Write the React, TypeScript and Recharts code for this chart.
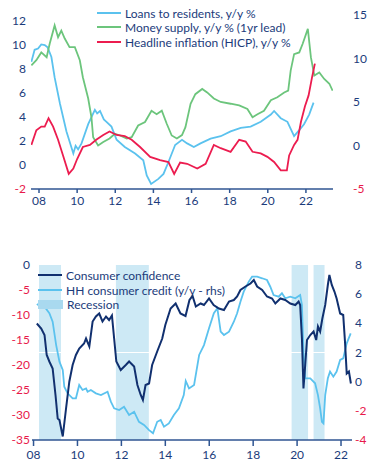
import React from 'react'
import { ComposedChart, Line, XAxis, YAxis, ReferenceArea, ReferenceLine } from 'recharts'

const NAVY = '#1b3b7b'
const RED = '#e8194b'
const AXIS = '#2f5592'
const FONT = 'Lato, "Open Sans", sans-serif'

// top panel: [year, y/y %]
const loans: [number, number][] = [
  [2007.6, 8.6], [2007.77, 9.6], [2007.95, 9.7], [2008.12, 10.05], [2008.3, 10.0], [2008.45, 9.8],
  [2008.65, 9.0], [2008.82, 7.3], [2009.1, 5.1], [2009.44, 2.8], [2009.8, 0.96], [2009.92, 1.6],
  [2010.05, 1.3], [2010.23, 1.8], [2010.58, 3.4], [2010.93, 4.6], [2011.05, 4.3], [2011.2, 4.5],
  [2011.4, 3.8], [2011.54, 3.6], [2011.8, 3.2], [2012.07, 2.1], [2012.5, 1.5], [2013.04, 0.96],
  [2013.47, 0.4], [2013.65, -0.87], [2013.88, -1.58], [2014.26, -1.16], [2014.53, -0.74],
  [2014.79, 0.25], [2015.14, 1.67], [2015.5, 2.1], [2015.77, 1.8], [2016.12, 1.5], [2016.47, 1.8],
  [2017.0, 2.2], [2017.53, 2.4], [2018.05, 2.8], [2018.58, 3.1], [2019.1, 3.2], [2019.63, 3.6],
  [2020.16, 4.2], [2020.33, 4.5], [2020.68, 3.9], [2021.03, 3.6], [2021.38, 2.4], [2021.65, 2.9],
  [2021.9, 3.4], [2022.17, 4.2], [2022.4, 5.2],
]

const money: [number, number][] = [
  [2007.6, 9.2], [2007.86, 9.8], [2008.12, 10.7], [2008.4, 10.15], [2008.56, 11.7], [2008.82, 13.8],
  [2009.0, 12.45], [2009.17, 13.2], [2009.35, 12.3], [2009.6, 11.3], [2009.88, 11.3], [2010.14, 9.8],
  [2010.3, 7.85], [2010.58, 5.4], [2010.75, 3.25], [2010.84, 0.95], [2011.1, 0.0], [2011.37, 0.4],
  [2011.7, 0.8], [2011.98, 1.35], [2012.25, 1.15], [2012.6, 0.8], [2012.86, 0.95], [2013.2, 2.3],
  [2013.56, 2.7], [2013.9, 4.0], [2014.17, 3.6], [2014.44, 4.0], [2014.7, 2.5], [2014.96, 1.15],
  [2015.23, 0.8], [2015.5, 1.2], [2015.68, 2.1], [2015.95, 4.8], [2016.2, 5.9], [2016.56, 6.5],
  [2016.82, 6.1], [2017.17, 5.4], [2017.53, 5.0], [2018.05, 4.8], [2018.5, 4.6], [2018.93, 4.2],
  [2019.2, 3.25], [2019.46, 3.6], [2019.8, 4.0], [2020.16, 5.2], [2020.5, 5.55], [2020.86, 6.1],
  [2021.07, 6.3], [2021.2, 8.6], [2021.38, 10.5], [2021.65, 10.7], [2021.83, 11.7], [2022.1, 13.4],
  [2022.26, 10.15], [2022.44, 8.05], [2022.7, 8.4], [2022.96, 7.65], [2023.23, 7.1], [2023.4, 6.3],
]

const hicp: [number, number][] = [
  [2007.6, 1.67], [2007.86, 2.9], [2008.12, 3.2], [2008.3, 3.2], [2008.5, 3.9], [2008.74, 3.2],
  [2009.0, 2.1], [2009.26, 0.8], [2009.56, -0.74], [2009.8, -0.3], [2010.0, 0.5], [2010.3, 1.5],
  [2010.67, 1.67], [2011.0, 2.1], [2011.37, 2.5], [2011.7, 2.8], [2012.07, 2.5], [2012.5, 2.4],
  [2012.86, 2.1], [2013.3, 1.5], [2013.83, 0.68], [2014.35, 0.4], [2014.79, 0.25], [2015.09, -0.74],
  [2015.4, 0.2], [2015.77, 0.1], [2016.3, -0.3], [2016.74, 0.1], [2017.17, 1.67], [2017.53, 1.4],
  [2018.05, 1.1], [2018.5, 2.1], [2018.84, 1.95], [2019.2, 1.1], [2019.63, 0.96], [2019.98, 0.68],
  [2020.33, 0.25], [2020.68, -0.45], [2021.0, -0.45], [2021.12, 0.8], [2021.38, 1.67], [2021.56, 2.1],
  [2021.74, 3.6], [2021.95, 4.9], [2022.14, 5.8], [2022.32, 7.3], [2022.47, 8.45],
]

// bottom panel
const confidence: [number, number][] = [
  [2008.15, -11.7], [2008.35, -12.7], [2008.5, -14], [2008.6, -18], [2008.72, -19.3], [2008.87, -20.7],
  [2009.0, -26], [2009.1, -30.7], [2009.18, -31], [2009.33, -34.3], [2009.48, -28.7], [2009.63, -23.3],
  [2009.78, -20], [2009.93, -18], [2010.08, -16.7], [2010.3, -15.7], [2010.39, -14.7], [2010.54, -16.3],
  [2010.69, -11.3], [2010.84, -10.3], [2010.99, -9.7], [2011.14, -11.3], [2011.3, -10.3], [2011.44, -11],
  [2011.57, -10.1], [2011.67, -14.7], [2011.77, -19.3], [2011.97, -21], [2012.2, -20], [2012.35, -19.3],
  [2012.58, -20.3], [2012.73, -24], [2012.88, -26], [2012.98, -27], [2013.1, -24], [2013.26, -23.7],
  [2013.4, -20], [2013.63, -17.3], [2013.86, -14.7], [2014.0, -12], [2014.24, -8.7], [2014.47, -7.7],
  [2014.69, -9.7], [2014.92, -10.2], [2015.1, -7], [2015.24, -6.2], [2015.39, -8.3], [2015.61, -7.7],
  [2015.76, -8], [2015.99, -6.7], [2016.2, -8], [2016.44, -8.7], [2016.67, -9], [2016.9, -7.3],
  [2017.12, -7], [2017.27, -6.3], [2017.42, -5], [2017.65, -4.3], [2017.88, -3.7], [2018.03, -3],
  [2018.18, -4.3], [2018.41, -5], [2018.63, -6.3], [2018.86, -6.7], [2019.01, -7.7], [2019.24, -6.7],
  [2019.46, -7], [2019.69, -7.7], [2019.92, -8], [2020.07, -7.3], [2020.14, -8], [2020.22, -14.7],
  [2020.29, -24.7], [2020.37, -20], [2020.45, -15], [2020.6, -14], [2020.75, -13.3], [2020.87, -15],
  [2020.95, -12.3], [2021.05, -13.3], [2021.15, -10.7], [2021.28, -8], [2021.4, -4], [2021.47, -2],
  [2021.58, -4], [2021.7, -5.3], [2021.8, -6.7], [2021.96, -9.7], [2022.1, -10], [2022.18, -15.3],
  [2022.26, -21.7], [2022.36, -21.3], [2022.45, -23.7],
]

const credit: [number, number][] = [
  [2008.15, 5.26], [2008.27, 5.37], [2008.5, 5.14], [2008.72, 4.69], [2008.87, 4.11], [2009.03, 2.51],
  [2009.18, 1.37], [2009.33, 0.8], [2009.4, -0.35], [2009.55, -0.8], [2009.78, -1.14], [2009.93, -1.14],
  [2010.08, -0.23], [2010.23, -0.57], [2010.39, -0.46], [2010.46, -0.69], [2010.61, -0.57], [2010.84, -0.8],
  [2011.07, -0.92], [2011.37, -0.69], [2011.52, -1.37], [2011.67, -1.83], [2011.9, -1.95], [2012.12, -1.72],
  [2012.35, -2.29], [2012.58, -2.06], [2012.8, -2.75], [2013.03, -2.97], [2013.26, -3.32], [2013.44, -3.54],
  [2013.63, -2.75], [2013.79, -2.63], [2013.94, -3.09], [2014.16, -2.86], [2014.39, -2.29], [2014.62, -1.83],
  [2014.84, -0.92], [2014.93, 0.05], [2015.08, -0.46], [2015.31, -0.23], [2015.54, 1.83], [2015.76, 2.51],
  [2015.99, 3.66], [2016.21, 4.69], [2016.37, 5.03], [2016.52, 3.43], [2016.67, 3.2], [2016.9, 3.43],
  [2017.12, 4.11], [2017.27, 4.69], [2017.42, 5.48], [2017.57, 6.17], [2017.8, 6.86], [2017.95, 7.2],
  [2018.18, 7.2], [2018.41, 7.09], [2018.63, 6.97], [2018.78, 6.51], [2018.93, 5.94], [2019.16, 5.83],
  [2019.31, 6.06], [2019.46, 5.72], [2019.69, 5.83], [2019.92, 5.72], [2020.14, 5.94], [2020.22, 5.26],
  [2020.29, 2.05], [2020.37, 0.23], [2020.6, 0.23], [2020.82, -0.11], [2020.95, -0.92], [2021.05, -1.83],
  [2021.13, -2.75], [2021.2, -2.86], [2021.28, -0.92], [2021.4, 0.23], [2021.5, 0.69], [2021.65, 0.34],
  [2021.8, 0.69], [2021.96, 1.49], [2022.1, 1.6], [2022.26, 2.63], [2022.44, 3.31],
]

const recessionStart = [2008.25, 2011.75, 2019.75, 2020.75]
const recessionEnd = [2009.25, 2013.25, 2020.5, 2021.25]

const yearTicks = [2008, 2010, 2012, 2014, 2016, 2018, 2020, 2022]
const topLeftTicks = [-2, 0, 2, 4, 6, 8, 10, 12]
const topRightTicks = [-5, 0, 5, 10, 15]
const botLeftTicks = [-35, -30, -25, -20, -15, -10, -5, 0]
const botRightTicks = [-4, -2, 0, 2, 4, 6, 8]

function mergeSeries(series: Record<string, [number, number][]>) {
  const rows = new Map<number, any>()
  for (const [key, pts] of Object.entries(series)) {
    for (const [x, y] of pts) {
      const row = rows.get(x) ?? { x }
      row[key] = y
      rows.set(x, row)
    }
  }
  return [...rows.values()].sort((a, b) => a.x - b.x)
}

const topData = mergeSeries({ loans, money, hicp })
const bottomData = mergeSeries({ confidence, credit })

const yearLabel = (v: number) => String(v % 100).padStart(2, '0')

// negatives are drawn in red on every value axis
const ValueTick = ({ x, y, payload, textAnchor }: any) => (
  <text x={x} y={y} dy={4} textAnchor={textAnchor} fontSize={12} fontFamily={FONT}
    fill={payload.value < 0 ? RED : NAVY}>
    {payload.value}
  </text>
)

const LegendRow = ({ top, left, color, label }: any) => (
  <div style={{ position: 'absolute', top, left, display: 'flex', alignItems: 'center', height: 14 }}>
    <div style={{ width: 24, height: 2, background: color, marginRight: 4 }} />
    <span style={{ fontSize: 12, color: NAVY, fontFamily: FONT, whiteSpace: 'nowrap' }}>{label}</span>
  </div>
)

export default function App() {
  return (
    <div style={{ position: 'absolute', top: 0, left: 0, width: 380, height: 472, background: '#fff' }}>
      <div style={{ position: 'absolute', top: 0, left: 0 }}>
        <ComposedChart width={380} height={215} data={topData}
          margin={{ top: 15, right: 7, bottom: 6, left: 5 }}>
          <XAxis dataKey="x" type="number" domain={[2007.58, 2023.42]} ticks={yearTicks}
            tickFormatter={yearLabel} allowDataOverflow height={20}
            axisLine={{ stroke: AXIS, strokeWidth: 1.5 }} tickLine={{ stroke: AXIS, strokeWidth: 1.5 }}
            tickSize={4} tickMargin={3}
            tick={{ fontSize: 12, fill: NAVY, fontFamily: FONT }} />
          <YAxis yAxisId="left" domain={[-2, 12.5]} ticks={topLeftTicks} width={26}
            axisLine={false} tickLine={false} tickSize={0} tickMargin={5} tick={<ValueTick />} />
          <YAxis yAxisId="right" orientation="right" domain={[-5, 15]} ticks={topRightTicks} width={40}
            axisLine={false} tickLine={false} tickSize={0} tickMargin={20} tick={<ValueTick />} />
          <Line yAxisId="left" dataKey="loans" stroke="#5bc2ee" strokeWidth={1.8} dot={false}
            connectNulls isAnimationActive={false} />
          <Line yAxisId="right" dataKey="money" stroke="#6cc57c" strokeWidth={1.8} dot={false}
            connectNulls isAnimationActive={false} />
          <Line yAxisId="left" dataKey="hicp" stroke="#ec1c4f" strokeWidth={1.8} dot={false}
            connectNulls isAnimationActive={false} />
        </ComposedChart>
        <LegendRow top={6} left={97} color="#5bc2ee" label="Loans to residents, y/y %" />
        <LegendRow top={20} left={97} color="#6cc57c" label="Money supply, y/y % (1yr lead)" />
        <LegendRow top={35} left={97} color="#ec1c4f" label="Headline inflation (HICP), y/y %" />
      </div>

      <div style={{ position: 'absolute', top: 240, left: 0 }}>
        <ComposedChart width={380} height={230} data={bottomData}
          margin={{ top: 25, right: 3, bottom: 5, left: 5 }}>
          <XAxis dataKey="x" type="number" domain={[2007.93, 2022.5]} ticks={yearTicks}
            tickFormatter={yearLabel} allowDataOverflow height={25}
            axisLine={{ stroke: AXIS, strokeWidth: 1.5 }} tickLine={{ stroke: AXIS, strokeWidth: 1.5 }}
            tickSize={6} tickMargin={4}
            tick={{ fontSize: 12, fill: NAVY, fontFamily: FONT }} />
          <YAxis yAxisId="left" domain={[-35, 0]} ticks={botLeftTicks} width={27}
            axisLine={false} tickLine={false} tickSize={0} tickMargin={2} tick={<ValueTick />} />
          <YAxis yAxisId="right" orientation="right" domain={[-4, 8]} ticks={botRightTicks} width={25}
            axisLine={false} tickLine={false} tickSize={0} tickMargin={3} tick={<ValueTick />} />
          {recessionStart.map((s, i) => (
            <ReferenceArea key={i} yAxisId="left" x1={s} x2={recessionEnd[i]}
              fill="#cde9f5" fillOpacity={1} stroke="none" />
          ))}
          <ReferenceLine yAxisId="right" y={2} stroke="#ffffff" strokeWidth={1} />
          <Line yAxisId="right" dataKey="credit" stroke="#5bc2ee" strokeWidth={1.8} dot={false}
            connectNulls isAnimationActive={false} />
          <Line yAxisId="left" dataKey="confidence" stroke="#11306f" strokeWidth={2} dot={false}
            connectNulls isAnimationActive={false} />
        </ComposedChart>
        <LegendRow top={28} left={38} color="#11306f" label="Consumer confidence" />
        <LegendRow top={43} left={38} color="#5bc2ee" label="HH consumer credit (y/y - rhs)" />
        <div style={{ position: 'absolute', top: 57, left: 38, display: 'flex', alignItems: 'center', height: 14 }}>
          <div style={{ width: 25, height: 9, background: '#a9d9ef', marginRight: 4 }} />
          <span style={{ fontSize: 12, color: NAVY, fontFamily: FONT }}>Recession</span>
        </div>
      </div>
    </div>
  )
}
